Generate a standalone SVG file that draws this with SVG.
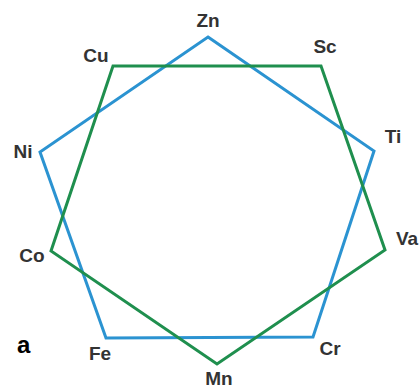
<svg xmlns="http://www.w3.org/2000/svg" width="419" height="390" viewBox="0 0 419 390">
<style>
.lbl{font-family:"Liberation Sans",Arial,sans-serif;font-weight:bold;font-size:19px;fill:#333;text-anchor:middle}
.blue{fill:none;stroke:#2b93d1;stroke-width:3;stroke-linejoin:miter}
.green{fill:none;stroke:#1f8f4e;stroke-width:3;stroke-linejoin:miter}
</style>
<rect width="419" height="390" fill="#fff"/>
<g id="connectors">
<polygon class="blue" points="208,37 374,151 313,337 106,338 40,152"/>
<polygon class="green" points="113,66 321,66 385,250 217,364 51,251"/>
</g>
<g id="Zn"><text class="lbl" x="208" y="27">Zn</text></g>
<g id="Cu"><text class="lbl" x="96" y="62">Cu</text></g>
<g id="Sc"><text class="lbl" x="325" y="53">Sc</text></g>
<g id="Ni"><text class="lbl" x="23" y="158">Ni</text></g>
<g id="Ti"><text class="lbl" x="393" y="143">Ti</text></g>
<g id="Co"><text class="lbl" x="32" y="262">Co</text></g>
<g id="Va"><text class="lbl" x="407" y="245">Va</text></g>
<g id="Fe"><text class="lbl" x="100" y="360">Fe</text></g>
<g id="Cr"><text class="lbl" x="330" y="355">Cr</text></g>
<g id="Mn"><text class="lbl" x="219" y="385">Mn</text></g>
<g id="label-a"><text x="17" y="353" font-family="Liberation Sans,Arial,sans-serif" font-weight="bold" font-size="24" fill="#000">a</text></g>
</svg>
